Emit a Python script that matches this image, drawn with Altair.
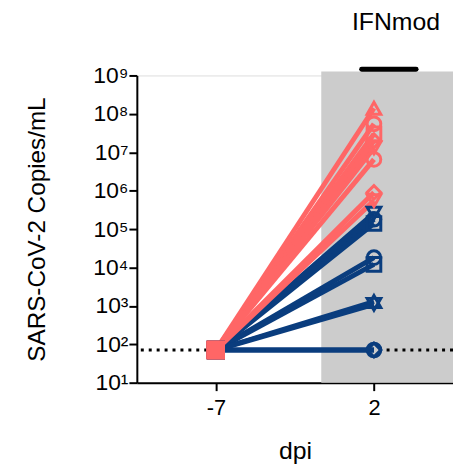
import altair as alt
import pandas as pd

# ---- data ----
animals = ["P1", "P2", "P3", "P4", "P5", "P6", "P7", "P8",
           "B1", "B2", "B3", "B4", "B5", "B6", "B7", "B8", "B9"]
groups = ["pink"] * 8 + ["blue"] * 9
day2_values = [1.4e8, 5.5e7, 3.0e7, 2.0e7, 1.3e7, 6.5e6, 9.0e5, 5.5e5,
               2.6e5, 1.8e5, 1.4e5, 1.8e4, 1.2e4, 1.3e3, 1.1e3, 71, 71]
lod = 71
days = [-7, 2]
x_ticks = [-7, 2]
y_ticks = [1e1, 1e2, 1e3, 1e4, 1e5, 1e6, 1e7, 1e8, 1e9]
shape_range = ["triangle-up", "circle", "square", "diamond", "triangle-down", "circle", "diamond", "triangle-down",
               "triangle-down", "circle", "square", "circle", "square", "triangle-up", "triangle-down", "circle", "diamond"]
group_names = ["blue", "pink"]
group_colors = ["#0A3D7E", "#FF6666"]

rows = []
for a, g, v in zip(animals, groups, day2_values):
    rows.append({"animal": a, "group": g, "day": days[0], "value": lod})
    rows.append({"animal": a, "group": g, "day": days[1], "value": v})
df = pd.DataFrame(rows)

shade = pd.DataFrame({"x": [-1], "x2": [6.5], "y": [10], "y2": [1.26e9]})
bar = pd.DataFrame({"x": [1.3], "x2": [4.4], "y": [1.45e9]})
label = pd.DataFrame({"x": [3.25], "text": ["IFNmod"]})
lod_df = pd.DataFrame({"y": [lod]})

sup = {1: "¹", 2: "²", 3: "³", 4: "⁴", 5: "⁵", 6: "⁶", 7: "⁷", 8: "⁸", 9: "⁹"}
expr = "''"
for k in range(9, 0, -1):
    expr = f"round(log(datum.value)/LN10)=={k} ? '10{sup[k]}' : ({expr})"

xdom = [-11.5, 6.5]
ydom = [10, 1e9]
xscale = alt.Scale(domain=xdom, nice=False, zero=False)
yscale = alt.Scale(type="log", domain=ydom, nice=False)

X = alt.X("x:Q", scale=xscale, axis=alt.Axis(values=x_ticks, title="dpi", grid=False,
          labelFontSize=22, titleFontSize=25, titleFontWeight="normal", tickSize=8,
          tickWidth=2, domainWidth=2, labelPadding=7, titlePadding=20, labelColor="black",
          titleColor="black", domainColor="black", tickColor="black",
          labelExpr="'' + datum.value"))
Y = alt.Y("y:Q", scale=yscale, axis=alt.Axis(values=y_ticks, labelExpr=expr,
          title="SARS-CoV-2 Copies/mL", grid=False, labelFontSize=23, titleFontSize=24.5,
          titleFontWeight="normal", tickSize=8, tickWidth=2, domainWidth=2, labelPadding=1,
          titlePadding=44, labelColor="black", titleColor="black", domainColor="black",
          tickColor="black"))

gray = alt.Chart(shade).mark_rect(color="#CCCCCC", clip=False).encode(
    x=X, x2="x2:Q", y=Y, y2="y2:Q")
topbar = alt.Chart(bar).mark_rule(color="black", strokeWidth=5, strokeCap="round", clip=False).encode(
    x=alt.X("x:Q", scale=xscale), x2="x2:Q", y=alt.Y("y:Q", scale=yscale))
txt = alt.Chart(label).mark_text(fontSize=25, color="black", baseline="middle").encode(
    x=alt.X("x:Q", scale=xscale), y=alt.value(-54), text="text:N")
dotted = alt.Chart(lod_df).mark_rule(color="black", strokeWidth=3, strokeDash=[3, 5]).encode(
    y=alt.Y("y:Q", scale=yscale))

color = alt.Color("group:N", scale=alt.Scale(domain=group_names, range=group_colors), legend=None)
shape = alt.Shape("animal:N", scale=alt.Scale(domain=animals, range=shape_range), legend=None)

def lines(g):
    return alt.Chart(df).transform_filter(alt.datum.group == g).mark_line(strokeWidth=5).encode(
        x=alt.X("day:Q", scale=xscale), y=alt.Y("value:Q", scale=yscale), detail="animal:N", color=color)

def pts(g):
    return alt.Chart(df).transform_filter((alt.datum.group == g) & (alt.datum.day == 2)).mark_point(
        filled=False, strokeWidth=3, size=190, opacity=1).encode(
        x=alt.X("day:Q", scale=xscale), y=alt.Y("value:Q", scale=yscale), shape=shape, color=color)

def start(g):
    return alt.Chart(df).transform_filter((alt.datum.group == g) & (alt.datum.day == -7)).mark_point(
        filled=True, shape="square", size=340, opacity=1).encode(
        x=alt.X("day:Q", scale=xscale), y=alt.Y("value:Q", scale=yscale), color=color)

chart = alt.layer(
    gray, topbar, txt, dotted,
    lines("blue"), lines("pink"), pts("blue"), pts("pink"), start("blue"), start("pink")
).properties(
    width=319, height=310,
    autosize=alt.AutoSizeParams(type="none"),
    padding={"left": 130, "top": 66, "right": 0, "bottom": 82},
).configure_view(stroke=None).configure(font="Liberation Sans")

chart.save("out.html", embed_options={"renderer": "svg", "actions": False})
